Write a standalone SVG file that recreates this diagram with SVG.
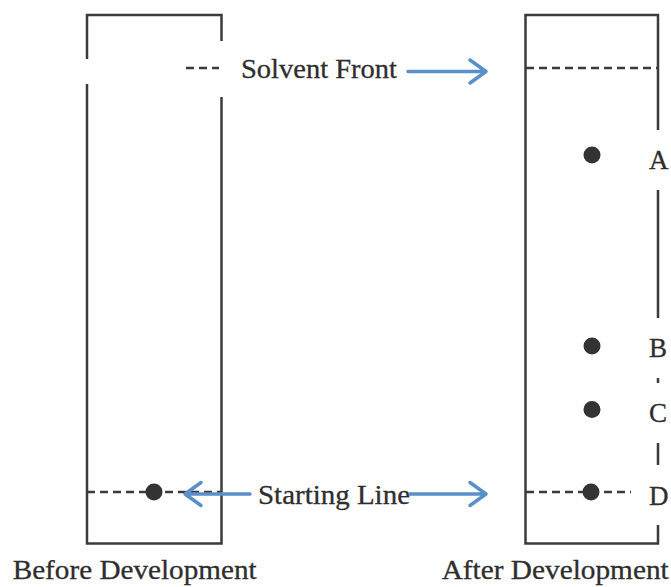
<svg xmlns="http://www.w3.org/2000/svg" width="671" height="587" viewBox="0 0 671 587">
<style>
.ln{stroke:#3b3b3b;stroke-width:2.5;fill:none;stroke-linecap:butt}
.dash{stroke:#3b3b3b;stroke-width:2.5;fill:none;stroke-dasharray:8 5}
.arr{stroke:#5b8fca;stroke-width:3.5;fill:none;stroke-linecap:round;stroke-linejoin:round}
.dot{fill:#333333}
.t{font-family:"Liberation Serif","Times New Roman",serif;font-size:27px;fill:#2e2e2e;stroke:#2e2e2e;stroke-width:0.3}
</style>
<rect width="671" height="587" fill="#ffffff"/>
<g id="before-plate">
<path class="ln" d="M87,59 V15 H221.5 V41 M87,84 V543.5 H221.5 V97"/>
<line class="dash" x1="186" y1="68" x2="219" y2="68"/>
<line class="dash" x1="87" y1="492" x2="221" y2="492"/>
<circle class="dot" cx="154" cy="492" r="8.5"/>
<text class="t" x="12.7" y="579" textLength="244" lengthAdjust="spacingAndGlyphs">Before Development</text>
</g>
<g id="after-plate">
<path class="ln" d="M658,130 V15 H525.5 V543.5 H658 V525 M658,190 V318 M658,378 V383 M658,443 V465"/>
<line class="dash" x1="526" y1="68" x2="658" y2="68"/>
<line class="dash" x1="526" y1="492" x2="631" y2="492"/>
<circle class="dot" cx="592" cy="155" r="8.5"/>
<circle class="dot" cx="592" cy="346" r="8.5"/>
<circle class="dot" cx="592" cy="409.5" r="8.5"/>
<circle class="dot" cx="591" cy="492" r="8.5"/>
<text class="t" x="441.7" y="579" textLength="227" lengthAdjust="spacingAndGlyphs">After Development</text>
</g>
<g id="label-A"><text class="t" x="649" y="168.5">A</text></g>
<g id="label-B"><text class="t" x="649" y="356.5">B</text></g>
<g id="label-C"><text class="t" x="649" y="421.5">C</text></g>
<g id="label-D"><text class="t" x="649" y="505">D</text></g>
<g id="solvent-front"><text class="t" x="241" y="77.5" textLength="156" lengthAdjust="spacingAndGlyphs">Solvent Front</text></g>
<g id="starting-line"><text class="t" x="258" y="503.5" textLength="152" lengthAdjust="spacingAndGlyphs">Starting Line</text></g>
<g id="connectors">
<path class="arr" d="M408,71.5 H485 M470,60 L486,71.5 L470,83"/>
<path class="arr" d="M250,494 H186 M201,482.5 L185,494 L201,505.5"/>
<path class="arr" d="M410,494 H485 M470,482.5 L486,494 L470,505.5"/>
</g>
</svg>
